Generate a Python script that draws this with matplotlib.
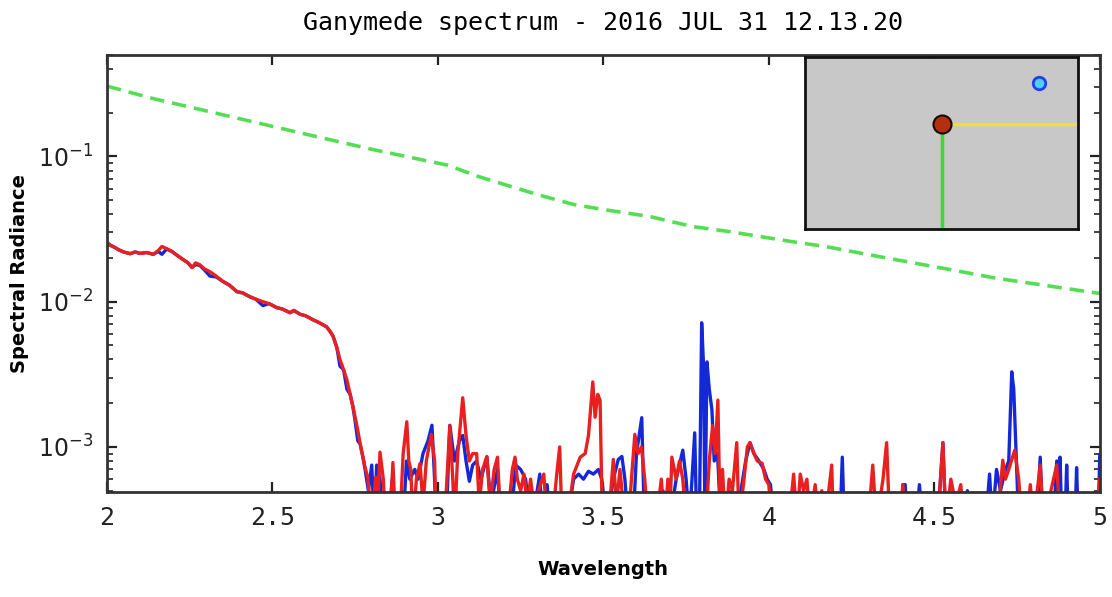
import numpy as np
import matplotlib
matplotlib.use('Agg')
import matplotlib.pyplot as plt

plt.rcParams['mathtext.fontset'] = 'custom'
plt.rcParams['mathtext.rm'] = 'DejaVu Sans Mono'
plt.rcParams['mathtext.it'] = 'DejaVu Sans Mono'

FLOOR = 3e-4  # troughs that fall below the axis

# model / solar curve (green dashed)
model_wl = [2.0, 2.14, 2.28, 2.58, 2.80, 3.03, 3.12, 3.30, 3.41, 3.50, 3.64,
            3.77, 3.88, 4.07, 4.17, 4.35, 4.55, 4.68, 4.88, 5.0]
model_rad = [0.305, 0.25, 0.211, 0.146, 0.112, 0.087, 0.073, 0.0547, 0.0467,
             0.0431, 0.0386, 0.0329, 0.0304, 0.0259, 0.0240, 0.0201, 0.0166,
             0.0146, 0.0125, 0.0114]

# measured spectrum, red channel
red_pts = [
    (2.000, 0.0255), (2.010, 0.0245), (2.024, 0.0236), (2.035, 0.0228),
    (2.050, 0.0220), (2.070, 0.0214), (2.085, 0.0220), (2.100, 0.0215),
    (2.120, 0.0218), (2.140, 0.0212), (2.155, 0.0225), (2.166, 0.0240),
    (2.180, 0.0232), (2.196, 0.0222), (2.210, 0.0210), (2.230, 0.0195),
    (2.245, 0.0185), (2.257, 0.0172), (2.268, 0.0185), (2.280, 0.0180),
    (2.295, 0.0168), (2.311, 0.0161), (2.330, 0.0150), (2.350, 0.0138),
    (2.370, 0.0130), (2.393, 0.0117), (2.410, 0.0115), (2.432, 0.0108),
    (2.450, 0.0104), (2.471, 0.0100), (2.490, 0.0097), (2.513, 0.0091),
    (2.530, 0.0089), (2.553, 0.0084), (2.565, 0.0087), (2.583, 0.0082),
    (2.600, 0.0080), (2.623, 0.0075), (2.640, 0.0072), (2.664, 0.0067),
    (2.675, 0.0062), (2.683, 0.0058), (2.695, 0.0048), (2.704, 0.0040),
    (2.715, 0.0034), (2.725, 0.0029), (2.735, 0.0023), (2.743, 0.0019),
    (2.750, 0.0016), (2.758, 0.0013), (2.765, 0.00105), (2.773, 0.00086),
    (2.780, 0.00072), (2.788, 0.00062), (2.795, 0.0004), (2.800, FLOOR),
    (2.812, 0.00062), (2.818, 0.0004), (2.825, 0.00092), (2.835, 0.0006),
    (2.842, FLOOR), (2.855, FLOOR), (2.864, 0.00078), (2.872, FLOOR),
    (2.885, FLOOR), (2.895, 0.0009), (2.906, 0.00149), (2.912, 0.0008),
    (2.918, 0.0007), (2.925, FLOOR), (2.935, 0.0006), (2.946, 0.00077),
    (2.955, 0.0004), (2.965, 0.0008), (2.980, 0.00122), (2.990, 0.0008),
    (2.995, FLOOR), (3.010, FLOOR), (3.020, FLOOR), (3.036, 0.0014),
    (3.045, 0.0006), (3.050, FLOOR), (3.060, 0.0009), (3.075, 0.00218),
    (3.085, 0.0012), (3.095, 0.0008), (3.105, 0.0009), (3.117, 0.0009),
    (3.125, 0.0004), (3.135, 0.0007), (3.148, 0.00086), (3.158, 0.0004),
    (3.170, 0.0007), (3.180, 0.00085), (3.190, FLOOR), (3.210, FLOOR),
    (3.225, 0.0007), (3.233, 0.00085), (3.240, 0.0006), (3.250, 0.0005),
    (3.260, 0.00065), (3.270, 0.0004), (3.280, 0.0006), (3.290, 0.0004),
    (3.310, 0.00055), (3.320, 0.00065), (3.330, FLOOR), (3.345, FLOOR),
    (3.360, 0.00068), (3.368, 0.0010), (3.375, FLOOR), (3.390, FLOOR),
    (3.410, 0.00065), (3.430, 0.00085), (3.445, 0.0009), (3.455, 0.0012),
    (3.468, 0.0028), (3.475, 0.0016), (3.483, 0.0023), (3.490, 0.0021),
    (3.497, FLOOR), (3.515, FLOOR), (3.530, 0.00082), (3.540, 0.0004),
    (3.550, 0.0007), (3.560, 0.0004), (3.575, FLOOR), (3.595, 0.00122),
    (3.605, 0.0009), (3.615, 0.0010), (3.625, 0.0006), (3.635, FLOOR),
    (3.660, FLOOR), (3.675, 0.0006), (3.685, FLOOR), (3.695, 0.0006),
    (3.700, FLOOR), (3.707, 0.00085), (3.720, 0.0006), (3.730, 0.0008),
    (3.740, 0.0006), (3.750, FLOOR), (3.810, FLOOR), (3.820, 0.0008),
    (3.830, 0.0014), (3.838, 0.0009), (3.846, 0.0021), (3.853, FLOOR),
    (3.860, 0.0007), (3.868, FLOOR), (3.880, 0.0006), (3.890, 0.0005),
    (3.903, 0.00107), (3.910, FLOOR), (3.925, 0.0006), (3.935, 0.0010),
    (3.943, 0.00107), (3.955, 0.0009), (3.965, 0.0008), (3.980, 0.00077),
    (3.990, 0.0006), (4.000, 0.00055), (4.010, FLOOR), (4.060, FLOOR),
    (4.075, 0.00065), (4.085, FLOOR), (4.095, 0.00065), (4.105, 0.0005),
    (4.115, 0.0006), (4.125, FLOOR), (4.140, 0.00055), (4.150, FLOOR),
    (4.160, 0.0005), (4.170, FLOOR), (4.190, 0.00075), (4.195, FLOOR),
    (4.300, FLOOR), (4.314, 0.00075), (4.325, FLOOR), (4.345, 0.0006),
    (4.356, 0.00107), (4.365, FLOOR), (4.395, FLOOR), (4.405, 0.00055),
    (4.415, FLOOR), (4.510, FLOOR), (4.526, 0.00107), (4.535, FLOOR),
    (4.550, 0.0006), (4.565, 0.0004), (4.580, 0.00055), (4.590, FLOOR),
    (4.690, FLOOR), (4.707, 0.00081), (4.715, 0.0006), (4.725, 0.0007),
    (4.743, 0.00095), (4.755, 0.0006), (4.765, FLOOR), (4.780, FLOOR),
    (4.790, 0.00055), (4.800, FLOOR), (4.820, 0.00075), (4.830, FLOOR),
    (4.870, 0.00075), (4.880, FLOOR), (4.990, FLOOR), (5.000, 0.0006),
]

# measured spectrum, blue channel
blue_pts = [
    (2.000, 0.0255), (2.010, 0.0245), (2.024, 0.0236), (2.035, 0.0228),
    (2.050, 0.0220), (2.070, 0.0214), (2.085, 0.0220), (2.100, 0.0215),
    (2.120, 0.0218), (2.140, 0.0212), (2.155, 0.0222), (2.166, 0.0212),
    (2.180, 0.0230), (2.196, 0.0222), (2.210, 0.0210), (2.230, 0.0195),
    (2.245, 0.0185), (2.257, 0.0172), (2.268, 0.0180), (2.280, 0.0178),
    (2.295, 0.0165), (2.311, 0.0150), (2.330, 0.0148), (2.350, 0.0138),
    (2.370, 0.0130), (2.393, 0.0117), (2.410, 0.0115), (2.432, 0.0108),
    (2.450, 0.0104), (2.471, 0.0094), (2.490, 0.0097), (2.513, 0.0091),
    (2.530, 0.0089), (2.553, 0.0084), (2.565, 0.0087), (2.583, 0.0082),
    (2.600, 0.0080), (2.623, 0.0075), (2.640, 0.0072), (2.664, 0.0067),
    (2.675, 0.0062), (2.683, 0.0058), (2.695, 0.0048), (2.704, 0.0036),
    (2.715, 0.0034), (2.725, 0.0025), (2.735, 0.0023), (2.743, 0.0019),
    (2.750, 0.0015), (2.758, 0.0011), (2.765, 0.00105), (2.773, 0.00086),
    (2.780, 0.0007), (2.790, 0.0005), (2.800, 0.00075), (2.808, FLOOR),
    (2.815, 0.00075), (2.825, 0.0006), (2.835, FLOOR), (2.850, FLOOR),
    (2.862, 0.0006), (2.870, FLOOR), (2.895, FLOOR), (2.905, 0.0008),
    (2.915, 0.0006), (2.930, 0.0007), (2.940, 0.0006), (2.955, 0.0009),
    (2.970, 0.0011), (2.982, 0.00141), (2.990, 0.0006), (2.995, FLOOR),
    (3.025, FLOOR), (3.036, 0.00141), (3.050, 0.0008), (3.065, 0.0011),
    (3.075, 0.0012), (3.085, 0.0008), (3.095, 0.00058), (3.105, 0.00075),
    (3.117, 0.0008), (3.130, 0.0006), (3.148, 0.00085), (3.160, 0.0004),
    (3.180, 0.0007), (3.190, FLOOR), (3.220, FLOOR), (3.235, 0.00075),
    (3.250, 0.0007), (3.265, 0.0006), (3.280, FLOOR), (3.300, 0.0005),
    (3.308, 0.00065), (3.315, FLOOR), (3.330, 0.00055), (3.340, FLOOR),
    (3.390, FLOOR), (3.410, 0.0006), (3.425, 0.00065), (3.440, 0.0006),
    (3.455, 0.00068), (3.470, 0.00065), (3.485, 0.0007), (3.495, 0.0006),
    (3.510, FLOOR), (3.530, 0.0006), (3.545, 0.00082), (3.556, 0.00086),
    (3.565, 0.0006), (3.575, FLOOR), (3.590, FLOOR), (3.600, 0.0009),
    (3.616, 0.00159), (3.624, FLOOR), (3.660, FLOOR), (3.680, 0.0005),
    (3.700, FLOOR), (3.720, 0.0006), (3.740, 0.00095), (3.750, 0.0006),
    (3.760, FLOOR), (3.776, 0.00125), (3.782, FLOOR), (3.790, FLOOR),
    (3.797, 0.00716), (3.803, 0.0035), (3.807, FLOOR), (3.813, 0.00385),
    (3.820, 0.0025), (3.828, 0.0018), (3.835, 0.0008), (3.845, 0.0009),
    (3.855, FLOOR), (3.880, 0.0005), (3.900, FLOOR), (3.930, 0.0008),
    (3.943, 0.00107), (3.955, 0.0009), (3.970, 0.0008), (3.985, 0.0007),
    (3.995, 0.0006), (4.005, 0.00055), (4.015, FLOOR), (4.215, FLOOR),
    (4.222, 0.00085), (4.228, FLOOR), (4.400, FLOOR), (4.405, 0.00055),
    (4.412, 0.00055), (4.418, FLOOR), (4.445, FLOOR), (4.455, 0.00055),
    (4.465, FLOOR), (4.510, FLOOR), (4.526, 0.00107), (4.535, FLOOR),
    (4.585, FLOOR), (4.600, 0.0005), (4.610, FLOOR), (4.655, FLOOR),
    (4.667, 0.00065), (4.675, FLOOR), (4.688, 0.0007), (4.700, 0.0005),
    (4.715, 0.0007), (4.725, 0.0008), (4.734, 0.00329), (4.740, 0.0025),
    (4.748, 0.0008), (4.755, FLOOR), (4.810, FLOOR), (4.820, 0.00085),
    (4.828, FLOOR), (4.860, FLOOR), (4.870, 0.0008), (4.875, FLOOR),
    (4.880, 0.00085), (4.885, FLOOR), (4.895, FLOOR), (4.900, 0.00075),
    (4.905, FLOOR), (4.925, FLOOR), (4.930, 0.00072), (4.935, FLOOR),
    (4.995, FLOOR), (5.000, 0.00088),
]

xticks = [2, 2.5, 3, 3.5, 4, 4.5, 5]
xticklabels = ['2', '2.5', '3', '3.5', '4', '4.5', '5']

# inset marker positions (axes fraction)
target_pos = (0.50, 0.614)
sun_pos = (0.857, 0.848)

red_wl, red_rad = zip(*red_pts)
blue_wl, blue_rad = zip(*blue_pts)

fig = plt.figure(figsize=(11.12, 5.97), dpi=100)
ax = fig.add_axes([0.0962, 0.176, 0.8928, 0.732])

ax.plot(model_wl, model_rad, color='#55dd55', lw=2.6, ls=(0, (4, 2.2)))
ax.plot(blue_wl, blue_rad, color='#1428d8', lw=2.4)
ax.plot(red_wl, red_rad, color='#e82020', lw=2.4)

ax.set_yscale('log')
ax.set_xlim(2, 5)
ax.set_ylim(4.9e-4, 0.5)
ax.set_xticks(xticks)
ax.set_xticklabels(xticklabels, family='DejaVu Sans Mono')
ax.tick_params(which='both', direction='in', top=True, right=True,
               labelsize=18, colors='#222222')
ax.tick_params(axis='y', labelsize=17)
ax.tick_params(which='major', length=7, width=1.6, pad=10)
ax.tick_params(which='minor', length=4, width=1.2)
for s in ax.spines.values():
    s.set_linewidth(2)
    s.set_color('#333333')

ax.set_title('Ganymede spectrum - 2016 JUL 31 12.13.20',
             family='DejaVu Sans Mono', fontsize=18, pad=18)
ax.set_xlabel('Wavelength', fontsize=14, fontweight='bold', labelpad=22)
ax.set_ylabel('Spectral Radiance', fontsize=14, fontweight='bold', labelpad=6)

# geometry inset
ins = fig.add_axes([0.724, 0.616, 0.2455, 0.288])
ins.set_facecolor('#c8c8c8')
ins.set_xlim(0, 1)
ins.set_ylim(0, 1)
ins.set_xticks([])
ins.set_yticks([])
for s in ins.spines.values():
    s.set_linewidth(2)
    s.set_color('#111111')
ins.plot([target_pos[0], 1], [target_pos[1], target_pos[1]], color='#e8e040', lw=2.5)
ins.plot([target_pos[0], target_pos[0]], [0, target_pos[1]], color='#33dd33', lw=2.5)
ins.plot(*target_pos, marker='o', ms=13, mfc='#b03010', mec='#1a0a00', mew=1.5)
ins.plot(*sun_pos, marker='o', ms=9, mfc='#55ccff', mec='#2040ee', mew=2)

fig.savefig('out.png', dpi=100)
